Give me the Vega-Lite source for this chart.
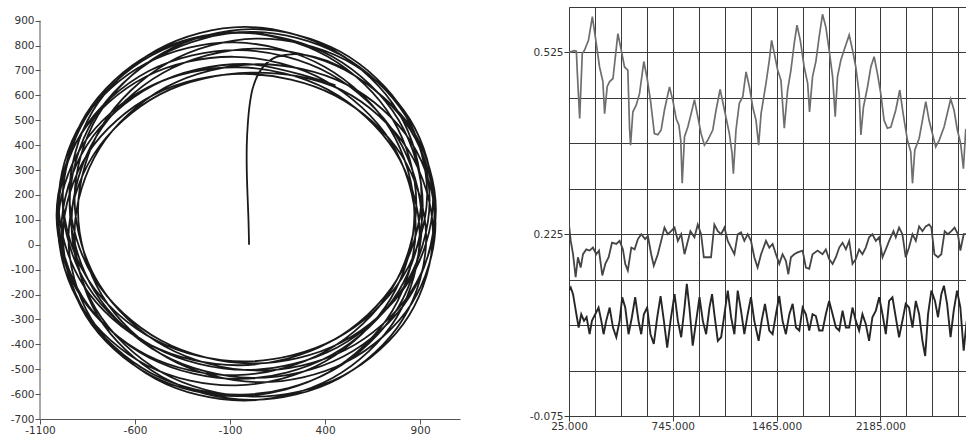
{
  "$schema": "https://vega.github.io/schema/vega-lite/v6.json",
  "background": "white",
  "padding": {"left": 10, "top": 2, "right": 0, "bottom": 0},
  "spacing": 69,
  "config": {
    "view": {"stroke": null},
    "font": "DejaVu Sans",
    "axis": {"labelFont": "DejaVu Sans", "labelFontSize": 10.5, "labelColor": "#333333", "title": null, "labelOverlap": false, "labelFlush": false}
  },
  "hconcat": [
    {
      "width": 420,
      "height": 412,
      "layer": [
        {
          "data": {"values": [
            {"x":0,"y":0},{"x":-3,"y":100},{"x":-8,"y":200},{"x":-12,"y":300},{"x":-12,"y":400},{"x":-7,"y":480},{"x":2,"y":555},{"x":18,"y":625},{"x":48,"y":685},{"x":90,"y":728},{"x":145,"y":755},{"x":300,"y":762},
            {"x":519,"y":698},{"x":860,"y":462},{"x":983,"y":138},{"x":854,"y":-187},{"x":506,"y":-423},{"x":32,"y":-505},{"x":-442,"y":-409},{"x":-789,"y":-159},{"x":-918,"y":181},{"x":-795,"y":520},{"x":-454,"y":770},{"x":14,"y":866},
            {"x":479,"y":776},{"x":817,"y":532},{"x":937,"y":199},{"x":805,"y":-134},{"x":456,"y":-378},{"x":-21,"y":-469},{"x":-498,"y":-381},{"x":-848,"y":-139},{"x":-980,"y":192},{"x":-859,"y":523},{"x":-521,"y":765},{"x":-56,"y":853},
            {"x":413,"y":756},{"x":755,"y":505},{"x":880,"y":165},{"x":752,"y":-176},{"x":406,"y":-427},{"x":-67,"y":-524},{"x":-539,"y":-443},{"x":-885,"y":-208},{"x":-1013,"y":116},{"x":-889,"y":439},{"x":-546,"y":674},{"x":-77,"y":755},
            {"x":398,"y":660},{"x":747,"y":412},{"x":877,"y":74},{"x":755,"y":-264},{"x":416,"y":-513},{"x":-51,"y":-608},{"x":-518,"y":-524},{"x":-857,"y":-287},{"x":-979,"y":39},{"x":-849,"y":366},{"x":-500,"y":603},{"x":-25,"y":686},
            {"x":451,"y":600},{"x":801,"y":361},{"x":932,"y":32},{"x":811,"y":-297},{"x":473,"y":-537},{"x":7,"y":-623},{"x":-459,"y":-530},{"x":-797,"y":-284},{"x":-918,"y":51},{"x":-787,"y":387},{"x":-437,"y":633},{"x":39,"y":725},
            {"x":510,"y":645},{"x":855,"y":410},{"x":981,"y":87},{"x":855,"y":-237},{"x":511,"y":-471},{"x":41,"y":-552},{"x":-430,"y":-454},{"x":-774,"y":-203},{"x":-900,"y":138},{"x":-773,"y":478},{"x":-429,"y":730},{"x":42,"y":828},
            {"x":508,"y":742},{"x":847,"y":503},{"x":968,"y":175},{"x":836,"y":-153},{"x":487,"y":-392},{"x":11,"y":-477},{"x":-465,"y":-384},{"x":-814,"y":-137},{"x":-945,"y":199},{"x":-824,"y":535},{"x":-486,"y":782},{"x":-20,"y":875},
            {"x":447,"y":780},{"x":786,"y":532},{"x":907,"y":195},{"x":777,"y":-142},{"x":428,"y":-390},{"x":-47,"y":-484},{"x":-523,"y":-401},{"x":-872,"y":-163},{"x":-1002,"y":164},{"x":-881,"y":491},{"x":-541,"y":729},{"x":-75,"y":813},
            {"x":397,"y":715},{"x":743,"y":464},{"x":870,"y":124},{"x":745,"y":-217},{"x":402,"y":-468},{"x":-68,"y":-565},{"x":-537,"y":-485},{"x":-880,"y":-250},{"x":-1005,"y":74},{"x":-878,"y":398},{"x":-532,"y":632},{"x":-60,"y":713},
            {"x":417,"y":622},{"x":766,"y":377},{"x":898,"y":43},{"x":778,"y":-290},{"x":439,"y":-535},{"x":-26,"y":-626},{"x":-491,"y":-539},{"x":-830,"y":-298},{"x":-950,"y":32},{"x":-818,"y":362},{"x":-469,"y":604},{"x":8,"y":691},
            {"x":488,"y":621},{"x":838,"y":380},{"x":968,"y":48},{"x":841,"y":-285},{"x":494,"y":-526},{"x":17,"y":-610},{"x":-460,"y":-512},{"x":-807,"y":-257},{"x":-934,"y":89},{"x":-804,"y":435},{"x":-454,"y":690},{"x":26,"y":788},
            {"x":502,"y":703},{"x":850,"y":460},{"x":976,"y":127},{"x":846,"y":-207},{"x":496,"y":-449},{"x":16,"y":-535},{"x":-464,"y":-438},{"x":-814,"y":-185},{"x":-944,"y":160},{"x":-818,"y":505},{"x":-470,"y":758},{"x":6,"y":855},
            {"x":480,"y":763},{"x":826,"y":515},{"x":950,"y":176},{"x":819,"y":-164},{"x":466,"y":-412},{"x":-16,"y":-503},{"x":-497,"y":-412},{"x":-850,"y":-165},{"x":-981,"y":174},{"x":-857,"y":513},{"x":-511,"y":761},{"x":-37,"y":851},
            {"x":440,"y":755},{"x":787,"y":501},{"x":914,"y":156},{"x":785,"y":-189},{"x":434,"y":-443},{"x":-45,"y":-539},{"x":-525,"y":-454},{"x":-875,"y":-212},{"x":-1004,"y":121},{"x":-878,"y":454},{"x":-530,"y":697},{"x":-53,"y":782},
            {"x":427,"y":686},{"x":778,"y":434},{"x":909,"y":90},{"x":783,"y":-254},{"x":437,"y":-506},{"x":-39,"y":-602},{"x":-515,"y":-516},{"x":-861,"y":-272},{"x":-987,"y":62},{"x":-856,"y":397},{"x":-505,"y":640},{"x":-24,"y":726},
            {"x":455,"y":640}
          ]},
          "mark": {"type": "line", "interpolate": "catmull-rom", "color": "#1a1a1a", "strokeWidth": 1.8},
          "encoding": {
            "x": {"field": "x", "type": "quantitative", "scale": {"domain": [-1100, 1110], "nice": false, "zero": false},
              "axis": {"values": [-1100, -600, -100, 400, 900], "tickCount": 10, "grid": false, "tickSize": 5, "labelPadding": 1, "labelOverlap": false, "domainColor": "#555555", "tickColor": "#555555", "labelExpr": "'' + datum.value"}},
            "y": {"field": "y", "type": "quantitative", "scale": {"domain": [-700, 955], "nice": false, "zero": false},
              "axis": {"values": [-700,-600,-500,-400,-300,-200,-100,0,100,200,300,400,500,600,700,800,900], "tickCount": 30, "grid": false, "domain": false, "tickSize": 5, "labelPadding": 1, "labelOverlap": false, "tickColor": "#555555", "labelExpr": "'' + datum.value"}},
            "order": {"value": null}
          }
        },
        {
          "data": {"values": [{}]},
          "mark": {"type": "rule", "color": "#555555", "strokeWidth": 1},
          "encoding": {"x": {"datum": -1100}, "y": {"datum": -700}, "y2": {"datum": 900}}
        }
      ]
    },
    {
      "width": 398,
      "height": 409,
      "data": {"values": [
        {"s":"a","x":25,"y":0.525},{"s":"a","x":60,"y":0.528},{"s":"a","x":76,"y":0.527},{"s":"a","x":83,"y":0.49},{"s":"a","x":99,"y":0.416},{"s":"a","x":117,"y":0.523},{"s":"a","x":133,"y":0.529},{"s":"a","x":160,"y":0.545},{"s":"a","x":187,"y":0.584},{"s":"a","x":214,"y":0.54},{"s":"a","x":237,"y":0.501},{"s":"a","x":260,"y":0.477},{"s":"a","x":272,"y":0.424},{"s":"a","x":290,"y":0.469},{"s":"a","x":307,"y":0.477},{"s":"a","x":330,"y":0.482},{"s":"a","x":364,"y":0.556},{"s":"a","x":387,"y":0.529},{"s":"a","x":410,"y":0.501},{"s":"a","x":433,"y":0.496},{"s":"a","x":445,"y":0.4},{"s":"a","x":452,"y":0.372},{"s":"a","x":468,"y":0.427},{"s":"a","x":491,"y":0.438},{"s":"a","x":514,"y":0.457},{"s":"a","x":544,"y":0.51},{"s":"a","x":567,"y":0.482},{"s":"a","x":590,"y":0.446},{"s":"a","x":617,"y":0.391},{"s":"a","x":641,"y":0.389},{"s":"a","x":664,"y":0.397},{"s":"a","x":687,"y":0.43},{"s":"a","x":722,"y":0.468},{"s":"a","x":745,"y":0.446},{"s":"a","x":768,"y":0.416},{"s":"a","x":787,"y":0.405},{"s":"a","x":800,"y":0.38},{"s":"a","x":810,"y":0.309},{"s":"a","x":826,"y":0.386},{"s":"a","x":849,"y":0.402},{"s":"a","x":872,"y":0.424},{"s":"a","x":895,"y":0.447},{"s":"a","x":918,"y":0.419},{"s":"a","x":941,"y":0.391},{"s":"a","x":964,"y":0.372},{"s":"a","x":987,"y":0.38},{"s":"a","x":1022,"y":0.397},{"s":"a","x":1045,"y":0.43},{"s":"a","x":1073,"y":0.464},{"s":"a","x":1103,"y":0.43},{"s":"a","x":1137,"y":0.391},{"s":"a","x":1155,"y":0.36},{"s":"a","x":1165,"y":0.325},{"s":"a","x":1183,"y":0.397},{"s":"a","x":1206,"y":0.441},{"s":"a","x":1230,"y":0.452},{"s":"a","x":1253,"y":0.493},{"s":"a","x":1276,"y":0.468},{"s":"a","x":1299,"y":0.435},{"s":"a","x":1322,"y":0.413},{"s":"a","x":1340,"y":0.372},{"s":"a","x":1357,"y":0.424},{"s":"a","x":1391,"y":0.474},{"s":"a","x":1414,"y":0.512},{"s":"a","x":1430,"y":0.545},{"s":"a","x":1449,"y":0.523},{"s":"a","x":1472,"y":0.496},{"s":"a","x":1495,"y":0.479},{"s":"a","x":1518,"y":0.4},{"s":"a","x":1541,"y":0.463},{"s":"a","x":1564,"y":0.496},{"s":"a","x":1587,"y":0.54},{"s":"a","x":1606,"y":0.57},{"s":"a","x":1629,"y":0.545},{"s":"a","x":1656,"y":0.501},{"s":"a","x":1680,"y":0.474},{"s":"a","x":1693,"y":0.427},{"s":"a","x":1714,"y":0.485},{"s":"a","x":1737,"y":0.51},{"s":"a","x":1760,"y":0.551},{"s":"a","x":1783,"y":0.588},{"s":"a","x":1806,"y":0.567},{"s":"a","x":1829,"y":0.529},{"s":"a","x":1853,"y":0.485},{"s":"a","x":1871,"y":0.419},{"s":"a","x":1887,"y":0.485},{"s":"a","x":1910,"y":0.512},{"s":"a","x":1933,"y":0.529},{"s":"a","x":1968,"y":0.554},{"s":"a","x":1991,"y":0.529},{"s":"a","x":2014,"y":0.501},{"s":"a","x":2037,"y":0.457},{"s":"a","x":2049,"y":0.389},{"s":"a","x":2067,"y":0.435},{"s":"a","x":2095,"y":0.468},{"s":"a","x":2118,"y":0.501},{"s":"a","x":2141,"y":0.518},{"s":"a","x":2164,"y":0.49},{"s":"a","x":2187,"y":0.457},{"s":"a","x":2210,"y":0.413},{"s":"a","x":2233,"y":0.4},{"s":"a","x":2257,"y":0.402},{"s":"a","x":2291,"y":0.43},{"s":"a","x":2319,"y":0.463},{"s":"a","x":2342,"y":0.424},{"s":"a","x":2372,"y":0.38},{"s":"a","x":2395,"y":0.361},{"s":"a","x":2407,"y":0.309},{"s":"a","x":2423,"y":0.364},{"s":"a","x":2453,"y":0.383},{"s":"a","x":2476,"y":0.413},{"s":"a","x":2499,"y":0.444},{"s":"a","x":2522,"y":0.413},{"s":"a","x":2545,"y":0.391},{"s":"a","x":2568,"y":0.369},{"s":"a","x":2592,"y":0.38},{"s":"a","x":2626,"y":0.402},{"s":"a","x":2672,"y":0.448},{"s":"a","x":2695,"y":0.43},{"s":"a","x":2718,"y":0.397},{"s":"a","x":2741,"y":0.375},{"s":"a","x":2760,"y":0.333},{"s":"a","x":2776,"y":0.397},{"s":"a","x":2787,"y":0.4},
        {"s":"b","x":25,"y":0.241},{"s":"b","x":37,"y":0.214},{"s":"b","x":53,"y":0.192},{"s":"b","x":71,"y":0.154},{"s":"b","x":87,"y":0.187},{"s":"b","x":106,"y":0.17},{"s":"b","x":122,"y":0.192},{"s":"b","x":145,"y":0.2},{"s":"b","x":168,"y":0.198},{"s":"b","x":191,"y":0.203},{"s":"b","x":214,"y":0.192},{"s":"b","x":233,"y":0.198},{"s":"b","x":256,"y":0.157},{"s":"b","x":277,"y":0.176},{"s":"b","x":300,"y":0.187},{"s":"b","x":323,"y":0.211},{"s":"b","x":353,"y":0.209},{"s":"b","x":376,"y":0.214},{"s":"b","x":399,"y":0.2},{"s":"b","x":415,"y":0.176},{"s":"b","x":433,"y":0.165},{"s":"b","x":457,"y":0.203},{"s":"b","x":480,"y":0.2},{"s":"b","x":503,"y":0.217},{"s":"b","x":526,"y":0.225},{"s":"b","x":553,"y":0.217},{"s":"b","x":572,"y":0.222},{"s":"b","x":595,"y":0.192},{"s":"b","x":613,"y":0.173},{"s":"b","x":641,"y":0.192},{"s":"b","x":664,"y":0.214},{"s":"b","x":687,"y":0.236},{"s":"b","x":710,"y":0.225},{"s":"b","x":733,"y":0.23},{"s":"b","x":757,"y":0.236},{"s":"b","x":780,"y":0.214},{"s":"b","x":803,"y":0.225},{"s":"b","x":826,"y":0.192},{"s":"b","x":844,"y":0.209},{"s":"b","x":867,"y":0.23},{"s":"b","x":895,"y":0.22},{"s":"b","x":918,"y":0.241},{"s":"b","x":941,"y":0.225},{"s":"b","x":960,"y":0.187},{"s":"b","x":987,"y":0.187},{"s":"b","x":1010,"y":0.187},{"s":"b","x":1033,"y":0.241},{"s":"b","x":1057,"y":0.23},{"s":"b","x":1080,"y":0.225},{"s":"b","x":1103,"y":0.236},{"s":"b","x":1126,"y":0.214},{"s":"b","x":1149,"y":0.203},{"s":"b","x":1172,"y":0.192},{"s":"b","x":1195,"y":0.225},{"s":"b","x":1218,"y":0.228},{"s":"b","x":1241,"y":0.214},{"s":"b","x":1264,"y":0.225},{"s":"b","x":1287,"y":0.214},{"s":"b","x":1310,"y":0.187},{"s":"b","x":1333,"y":0.17},{"s":"b","x":1357,"y":0.192},{"s":"b","x":1391,"y":0.214},{"s":"b","x":1414,"y":0.203},{"s":"b","x":1437,"y":0.209},{"s":"b","x":1460,"y":0.192},{"s":"b","x":1483,"y":0.176},{"s":"b","x":1506,"y":0.192},{"s":"b","x":1529,"y":0.181},{"s":"b","x":1546,"y":0.159},{"s":"b","x":1564,"y":0.187},{"s":"b","x":1587,"y":0.192},{"s":"b","x":1610,"y":0.195},{"s":"b","x":1645,"y":0.198},{"s":"b","x":1668,"y":0.17},{"s":"b","x":1691,"y":0.168},{"s":"b","x":1714,"y":0.192},{"s":"b","x":1749,"y":0.198},{"s":"b","x":1783,"y":0.192},{"s":"b","x":1806,"y":0.2},{"s":"b","x":1829,"y":0.184},{"s":"b","x":1853,"y":0.176},{"s":"b","x":1876,"y":0.187},{"s":"b","x":1899,"y":0.203},{"s":"b","x":1922,"y":0.211},{"s":"b","x":1945,"y":0.2},{"s":"b","x":1968,"y":0.214},{"s":"b","x":1991,"y":0.176},{"s":"b","x":2014,"y":0.184},{"s":"b","x":2037,"y":0.2},{"s":"b","x":2060,"y":0.192},{"s":"b","x":2083,"y":0.203},{"s":"b","x":2106,"y":0.22},{"s":"b","x":2129,"y":0.225},{"s":"b","x":2153,"y":0.214},{"s":"b","x":2176,"y":0.22},{"s":"b","x":2199,"y":0.187},{"s":"b","x":2222,"y":0.2},{"s":"b","x":2245,"y":0.214},{"s":"b","x":2275,"y":0.23},{"s":"b","x":2291,"y":0.22},{"s":"b","x":2314,"y":0.236},{"s":"b","x":2337,"y":0.225},{"s":"b","x":2360,"y":0.187},{"s":"b","x":2383,"y":0.203},{"s":"b","x":2407,"y":0.225},{"s":"b","x":2430,"y":0.214},{"s":"b","x":2453,"y":0.238},{"s":"b","x":2476,"y":0.23},{"s":"b","x":2499,"y":0.238},{"s":"b","x":2522,"y":0.241},{"s":"b","x":2538,"y":0.236},{"s":"b","x":2559,"y":0.192},{"s":"b","x":2584,"y":0.187},{"s":"b","x":2607,"y":0.192},{"s":"b","x":2630,"y":0.23},{"s":"b","x":2653,"y":0.225},{"s":"b","x":2676,"y":0.23},{"s":"b","x":2699,"y":0.236},{"s":"b","x":2722,"y":0.225},{"s":"b","x":2739,"y":0.198},{"s":"b","x":2762,"y":0.225},{"s":"b","x":2783,"y":0.225},
        {"s":"c","x":25,"y":0.132},{"s":"c","x":37,"y":0.137},{"s":"c","x":53,"y":0.126},{"s":"c","x":76,"y":0.093},{"s":"c","x":92,"y":0.071},{"s":"c","x":110,"y":0.093},{"s":"c","x":129,"y":0.082},{"s":"c","x":147,"y":0.088},{"s":"c","x":168,"y":0.06},{"s":"c","x":184,"y":0.082},{"s":"c","x":207,"y":0.093},{"s":"c","x":230,"y":0.104},{"s":"c","x":249,"y":0.082},{"s":"c","x":265,"y":0.06},{"s":"c","x":283,"y":0.082},{"s":"c","x":307,"y":0.104},{"s":"c","x":330,"y":0.071},{"s":"c","x":353,"y":0.055},{"s":"c","x":376,"y":0.082},{"s":"c","x":394,"y":0.121},{"s":"c","x":415,"y":0.104},{"s":"c","x":438,"y":0.06},{"s":"c","x":461,"y":0.088},{"s":"c","x":484,"y":0.121},{"s":"c","x":507,"y":0.082},{"s":"c","x":526,"y":0.06},{"s":"c","x":544,"y":0.093},{"s":"c","x":567,"y":0.104},{"s":"c","x":590,"y":0.06},{"s":"c","x":613,"y":0.044},{"s":"c","x":637,"y":0.088},{"s":"c","x":660,"y":0.123},{"s":"c","x":683,"y":0.082},{"s":"c","x":706,"y":0.038},{"s":"c","x":729,"y":0.082},{"s":"c","x":757,"y":0.126},{"s":"c","x":780,"y":0.082},{"s":"c","x":803,"y":0.055},{"s":"c","x":826,"y":0.104},{"s":"c","x":842,"y":0.143},{"s":"c","x":860,"y":0.104},{"s":"c","x":883,"y":0.041},{"s":"c","x":907,"y":0.082},{"s":"c","x":930,"y":0.121},{"s":"c","x":953,"y":0.082},{"s":"c","x":976,"y":0.06},{"s":"c","x":999,"y":0.104},{"s":"c","x":1017,"y":0.126},{"s":"c","x":1033,"y":0.093},{"s":"c","x":1057,"y":0.049},{"s":"c","x":1080,"y":0.055},{"s":"c","x":1103,"y":0.093},{"s":"c","x":1126,"y":0.132},{"s":"c","x":1149,"y":0.088},{"s":"c","x":1172,"y":0.06},{"s":"c","x":1195,"y":0.132},{"s":"c","x":1218,"y":0.099},{"s":"c","x":1241,"y":0.06},{"s":"c","x":1264,"y":0.093},{"s":"c","x":1287,"y":0.121},{"s":"c","x":1310,"y":0.082},{"s":"c","x":1340,"y":0.049},{"s":"c","x":1361,"y":0.082},{"s":"c","x":1384,"y":0.11},{"s":"c","x":1414,"y":0.066},{"s":"c","x":1437,"y":0.06},{"s":"c","x":1460,"y":0.093},{"s":"c","x":1483,"y":0.123},{"s":"c","x":1506,"y":0.082},{"s":"c","x":1529,"y":0.06},{"s":"c","x":1553,"y":0.093},{"s":"c","x":1576,"y":0.11},{"s":"c","x":1599,"y":0.071},{"s":"c","x":1622,"y":0.066},{"s":"c","x":1645,"y":0.104},{"s":"c","x":1668,"y":0.093},{"s":"c","x":1691,"y":0.066},{"s":"c","x":1714,"y":0.093},{"s":"c","x":1737,"y":0.09},{"s":"c","x":1760,"y":0.066},{"s":"c","x":1783,"y":0.066},{"s":"c","x":1806,"y":0.093},{"s":"c","x":1829,"y":0.115},{"s":"c","x":1853,"y":0.093},{"s":"c","x":1876,"y":0.071},{"s":"c","x":1899,"y":0.066},{"s":"c","x":1922,"y":0.099},{"s":"c","x":1945,"y":0.071},{"s":"c","x":1968,"y":0.071},{"s":"c","x":1991,"y":0.104},{"s":"c","x":2014,"y":0.082},{"s":"c","x":2037,"y":0.066},{"s":"c","x":2060,"y":0.093},{"s":"c","x":2083,"y":0.077},{"s":"c","x":2106,"y":0.049},{"s":"c","x":2129,"y":0.088},{"s":"c","x":2153,"y":0.099},{"s":"c","x":2176,"y":0.121},{"s":"c","x":2199,"y":0.093},{"s":"c","x":2222,"y":0.06},{"s":"c","x":2245,"y":0.115},{"s":"c","x":2268,"y":0.121},{"s":"c","x":2291,"y":0.088},{"s":"c","x":2314,"y":0.055},{"s":"c","x":2337,"y":0.082},{"s":"c","x":2360,"y":0.11},{"s":"c","x":2383,"y":0.104},{"s":"c","x":2407,"y":0.071},{"s":"c","x":2430,"y":0.115},{"s":"c","x":2453,"y":0.093},{"s":"c","x":2476,"y":0.049},{"s":"c","x":2495,"y":0.024},{"s":"c","x":2515,"y":0.093},{"s":"c","x":2538,"y":0.132},{"s":"c","x":2563,"y":0.115},{"s":"c","x":2584,"y":0.088},{"s":"c","x":2607,"y":0.126},{"s":"c","x":2625,"y":0.14},{"s":"c","x":2647,"y":0.11},{"s":"c","x":2671,"y":0.055},{"s":"c","x":2693,"y":0.099},{"s":"c","x":2716,"y":0.132},{"s":"c","x":2739,"y":0.104},{"s":"c","x":2762,"y":0.033},{"s":"c","x":2783,"y":0.082}
      ]},
      "mark": {"type": "line", "clip": true},
      "encoding": {
        "x": {"field": "x", "type": "quantitative", "scale": {"domain": [25, 2785], "nice": false, "zero": false},
          "axis": {"values": [25,205,385,565,745,925,1105,1285,1465,1645,1825,2005,2185,2365,2545,2725], "tickCount": 30, "grid": true, "gridColor": "#3a3a3a", "gridOpacity": 1, "gridWidth": 1, "domainColor": "#3a3a3a", "tickColor": "#3a3a3a", "tickSize": 5, "labelPadding": 0,
            "tickOpacity": {"condition": {"test": "datum.value == 25 || datum.value == 745 || datum.value == 1465 || datum.value == 2185", "value": 1}, "value": 0},
            "labelExpr": "datum.value == 25 ? '25.000' : datum.value == 745 ? '745.000' : datum.value == 1465 ? '1465.000' : datum.value == 2185 ? '2185.000' : ''"}},
        "y": {"field": "y", "type": "quantitative", "scale": {"domain": [-0.075, 0.6], "nice": false, "zero": false},
          "axis": {"values": [-0.075, 0, 0.075, 0.15, 0.225, 0.3, 0.375, 0.45, 0.525, 0.6], "tickCount": 30, "grid": true, "gridColor": "#3a3a3a", "gridOpacity": 1, "gridWidth": 1, "domainColor": "#3a3a3a", "tickColor": "#3a3a3a", "tickSize": 5, "labelPadding": 1,
            "tickOpacity": {"condition": {"test": "datum.value == -0.075 || datum.value == 0.225 || datum.value == 0.525", "value": 1}, "value": 0},
            "labelExpr": "datum.value == -0.075 ? '-0.075' : datum.value == 0.225 ? '0.225' : datum.value == 0.525 ? '0.525' : ''"}},
        "color": {"field": "s", "type": "nominal", "scale": {"domain": ["a", "b", "c"], "range": ["#6e6e6e", "#454545", "#262626"]}, "legend": null},
        "strokeWidth": {"field": "s", "type": "nominal", "scale": {"domain": ["a", "b", "c"], "range": [1.7, 1.9, 2.1]}, "legend": null}
      }
    }
  ]
}
